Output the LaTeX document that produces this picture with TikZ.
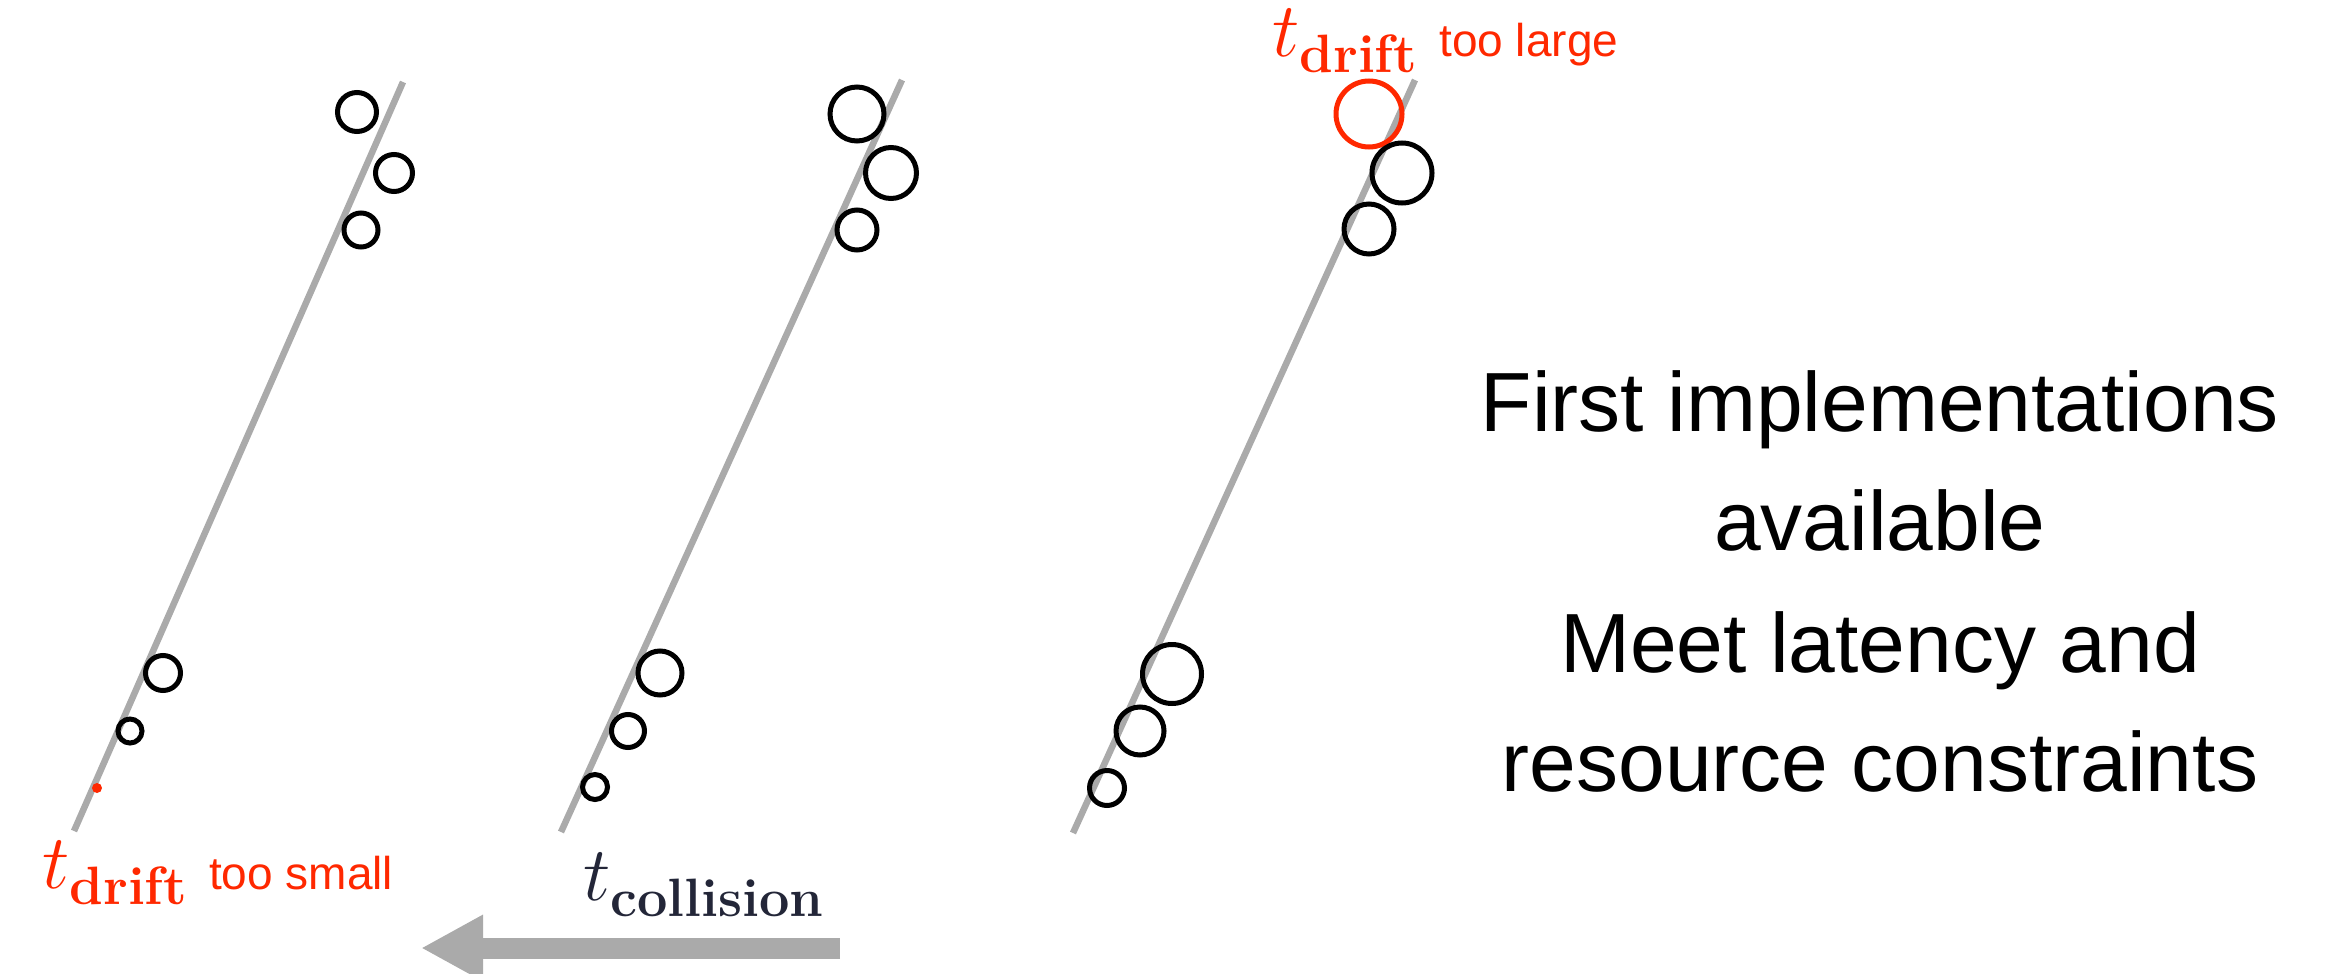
\documentclass[tikz,border=0pt]{standalone}
\usepackage{fix-cm}
\usepackage{fontspec}
\newfontfamily\arialf{Liberation Sans}
\usetikzlibrary{arrows.meta}
\definecolor{tred}{RGB}{255,40,0}
\definecolor{tnavy}{RGB}{35,38,56}
\definecolor{tgray}{RGB}{170,170,170}
\newcommand{\tsub}[1]{{\fontsize{77}{77}\selectfont$t$}\raisebox{-16pt}{\fontsize{54}{54}\selectfont\bfseries #1}}
\begin{document}
\begin{tikzpicture}[x=1pt,y=-1pt,
  track/.style={draw=tgray,line width=6.5pt},
  hit/.style={circle,draw=black,line width=5pt,inner sep=0pt,minimum size=#1},
  redhit/.style={circle,draw=tred,line width=5pt,inner sep=0pt,minimum size=#1},
  reddot/.style={circle,fill=tred,inner sep=0pt,minimum size=10pt},
  mathlbl/.style={inner sep=0pt,anchor=base west},
  smalllbl/.style={inner sep=0pt,anchor=base west,text=tred,font=\arialf\fontsize{46}{46}\selectfont},
  bigtxt/.style={inner sep=0pt,anchor=base,font=\arialf\fontsize{84}{84}\selectfont},
  bigarrow/.style={draw=tgray,line width=21pt,-{Triangle[length=62pt,width=62pt]}}]
\useasboundingbox (0,0) rectangle (2331,974);

% tracks
\coordinate (l1a) at (74,831);   \coordinate (l1b) at (403,82);
\coordinate (l2a) at (561,832);  \coordinate (l2b) at (902,80);
\coordinate (l3a) at (1073,833); \coordinate (l3b) at (1415,80);
\draw[track] (l1a) -- (l1b);
\draw[track] (l2a) -- (l2b);
\draw[track] (l3a) -- (l3b);

% hits, track 1
\node[hit=39pt] (h11) at (357,112) {};
\node[hit=37pt] (h12) at (394,173) {};
\node[hit=34pt] (h13) at (361,230) {};
\node[hit=35pt] (h14) at (163,673) {};
\node[hit=24pt] (h15) at (130,731) {};
\node[reddot] (h16) at (97,788) {};

% hits, track 2
\node[hit=54pt] (h21) at (857,114) {};
\node[hit=51pt] (h22) at (891,173) {};
\node[hit=40pt] (h23) at (857,230) {};
\node[hit=44pt] (h24) at (660,673) {};
\node[hit=33pt] (h25) at (628,731) {};
\node[hit=25pt] (h26) at (595,787) {};

% hits, track 3
\node[redhit=66pt] (h31) at (1369,114) {};
\node[hit=60pt] (h32) at (1402,173) {};
\node[hit=50pt] (h33) at (1369,229) {};
\node[hit=59pt] (h34) at (1172,674) {};
\node[hit=48pt] (h35) at (1140,731) {};
\node[hit=35pt] (h36) at (1107,788) {};

% labels
\node[mathlbl,text=tred] (tds) at (42,888) {\tsub{drift}};
\node[smalllbl] (small) at (209,889) {too small};
\node[mathlbl,text=tred] (tdl) at (1272,57) {\tsub{drift}};
\node[smalllbl] (large) at (1439,57) {too large};
\node[mathlbl,text=tnavy] (tcol) at (583,900) {\tsub{collision}};

% arrow
\coordinate (atail) at (840,948);
\coordinate (ahead) at (421,948);
\draw[bigarrow] (atail) -- (ahead);

% right text
\node[bigtxt] (txt1) at (1880,431) {First implementations};
\node[bigtxt] (txt2) at (1880,550) {available};
\node[bigtxt] (txt3) at (1880,672) {Meet latency and};
\node[bigtxt] (txt4) at (1880,791) {resource constraints};
\end{tikzpicture}
\end{document}
